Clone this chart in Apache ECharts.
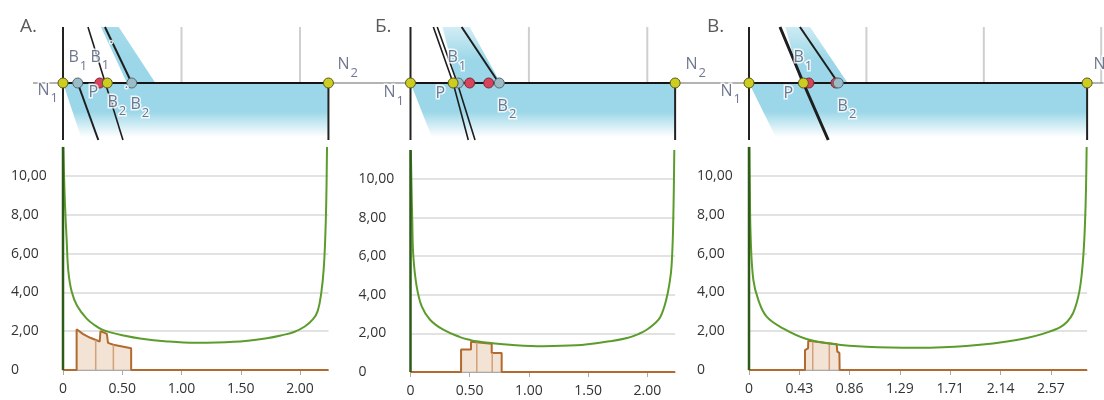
<!DOCTYPE html>
<html>
<head>
<meta charset="utf-8">
<script src="https://cdn.jsdelivr.net/npm/echarts@6/dist/echarts.min.js"></script>
<style>
html,body{margin:0;padding:0;background:#fff}
#main{width:1104px;height:400px}
</style>
</head>
<body>
<div id="main"></div>
<script>
// tick labels
var xTicksAB = [0, 0.5, 1, 1.5, 2];
var xTicksC = [0, 0.4286, 0.8571, 1.2857, 1.7143, 2.1429, 2.5714];
var yTop = 11.5;

// green curves
var curveA = [[0.003,11.5],[0.008,10.2],[0.017,8.5],[0.031,6.7],[0.045,5.1],[0.073,4.05],[0.12,3.3],[0.2,2.65],[0.27,2.3],[0.33,2.08],[0.4,1.94],[0.5,1.79],[0.65,1.62],[0.88,1.47],[1.12,1.4],[1.44,1.45],[1.72,1.64],[1.86,1.81],[1.95,1.96],[2.04,2.24],[2.11,2.62],[2.15,3.05],[2.18,4.0],[2.2,5.2],[2.213,6.8],[2.222,8.8],[2.228,11.5]];
var curveB = [[0.003,11.5],[0.008,9.8],[0.015,7.8],[0.024,6.0],[0.052,4.44],[0.095,3.4],[0.165,2.71],[0.277,2.19],[0.418,1.81],[0.51,1.65],[0.56,1.59],[0.68,1.5],[0.84,1.41],[1.12,1.34],[1.4,1.38],[1.68,1.59],[1.83,1.76],[1.93,1.98],[1.995,2.19],[2.06,2.5],[2.11,2.85],[2.16,3.75],[2.19,4.7],[2.205,5.5],[2.218,7.5],[2.228,11.5]];
var curveC = [[0.003,11.5],[0.007,9.5],[0.014,6.9],[0.037,4.64],[0.08,3.6],[0.15,2.75],[0.29,2.15],[0.49,1.6],[0.72,1.34],[1.0,1.2],[1.43,1.15],[1.85,1.24],[2.28,1.55],[2.56,1.98],[2.71,2.49],[2.79,3.44],[2.835,4.98],[2.862,7.56],[2.876,11.5]];

// brown histograms
var histA = [[0.115,0],[0.115,2.1],[0.17,1.85],[0.23,1.66],[0.31,1.47],[0.316,2.0],[0.37,1.86],[0.38,1.4],[0.425,1.3],[0.575,1.12],[0.575,0]];
var histB = [[0.427,0],[0.427,1.16],[0.511,1.16],[0.511,1.57],[0.686,1.46],[0.686,0.98],[0.77,0.98],[0.77,0]];
var histC = [[0.477,0],[0.477,1.03],[0.49,1.08],[0.503,1.12],[0.505,1.51],[0.747,1.33],[0.752,0.95],[0.77,0.88],[0.772,0]];
var divA = [[0.276,1.55],[0.425,1.3]];
var divB = [[0.56,1.54],[0.69,0.98]];
var divC = [[0.543,1.48],[0.684,1.38]];

// scheme above: x in axis units, y in px from the N1-N2 line
var bandA = [[0.32,56],[0.47,56],[0.78,0],[0.54,0]];
var bandB = [[0.27,56],[0.50,56],[0.76,0],[0.39,0]];
var bandC = [[0.31,56],[0.52,56],[0.84,0],[0.44,0]];
var raysA = [[[0.211,56],[0.506,-57]], [[0.124,0],[0.298,-57]], [[0.354,56],[0.58,0]]];
var raysB = [[[0.193,56],[0.36,0],[0.488,-57]], [[0.226,56],[0.395,0],[0.545,-57]], [[0.432,56],[0.747,0]]];
var raysC = [[[0.264,56],[0.463,0],[0.675,-57]], [[0.434,56],[0.76,0]]];
var yellowA = [0, 0.374, 2.24], greyA = [0.124, 0.58], redA = [0.31];
var yellowB = [0, 0.36, 2.235], greyB = [0.405, 0.75], redB = [0.5, 0.66];
var yellowC = [0, 0.463, 2.88], greyC = [0.76], redC = [0.51, 0.74];
var labelsA = [['B','1',0.042,21.5],['B','1',0.228,22],['˙','',0.39,31],['P','',0.211,-13],['B','2',0.371,-23.5],['˙','',0.52,-14],['B','2',0.565,-25.5],['N','1',-0.219,-11],['N','2',2.312,14.5]];
var labelsB = [['B','1',0.308,21.5],['P','',0.207,-14],['B','2',0.731,-27],['N','1',-0.232,-13.5],['N','2',2.318,14.5]];
var labelsC = [['B','1',0.375,21.5],['P','',0.29,-14.5],['B','2',0.75,-27],['N','1',-0.247,-12],['N','2',2.93,14.5]];

var F = 'Open Sans';
var LBL = '#4b5673';
var panels = [
  {title:'А.', tx:15, X0:63, k:118.5, L:2.24, xmin:-0.253, xmax:2.675, top:176, h:194, ticks:xTicksAB, guides:[1,2],
   curve:curveA, hist:histA, div:divA, band:bandA, bandFade:0.9, edge:0.16, rays:raysA, rayW:[1.6,2,2], yellow:yellowA, grey:greyA, red:redA, labels:labelsA},
  {title:'Б.', tx:370, X0:410.5, k:118.4, L:2.235, xmin:-0.258, xmax:2.614, top:179, h:193, ticks:xTicksAB, guides:[1,2],
   curve:curveB, hist:histB, div:divB, band:bandB, bandFade:0.45, edge:0.19, rays:raysB, rayW:[1.6,1.6,2], yellow:yellowB, grey:greyB, red:redB, labels:labelsB},
  {title:'В.', tx:702, X0:749, k:117.4, L:2.88, xmin:-0.247, xmax:3.02, top:176, h:194, ticks:xTicksC, guides:[1,2,3],
   curve:curveC, hist:histC, div:divC, band:bandC, bandFade:0.5, edge:0.24, rays:raysC, rayW:[3,2], yellow:yellowC, grey:greyC, red:redC, labels:labelsC}
];

function grad(stops) {
  return new echarts.graphic.LinearGradient(0, 0, 0, 1, stops.map(function (s) {
    return {offset: s[0], color: 'rgba(155,215,232,' + s[1] + ')'};
  }));
}
function polySeries(poly, ax, fill) {
  return {
    type: 'custom', xAxisIndex: ax, yAxisIndex: ax, data: [[0, 0]], silent: true, z: 1,
    renderItem: function (params, api) {
      return {type: 'polygon', shape: {points: poly.map(function (p) { return api.coord(p); })}, style: {fill: fill}};
    }
  };
}
function lineSeries(data, ax, color, width, z) {
  return {type: 'line', xAxisIndex: ax, yAxisIndex: ax, data: data, symbol: 'none', silent: true,
    lineStyle: {color: color, width: width}, z: z || 2, clip: false};
}
function dots(xs, ax, color, border, z) {
  return {type: 'scatter', xAxisIndex: ax, yAxisIndex: ax, silent: true, z: z, symbolSize: 10,
    data: xs.map(function (x) { return [x, 0]; }),
    itemStyle: {color: color, borderColor: border, borderWidth: 1, opacity: 1}};
}

var grids = [], xAxes = [], yAxes = [], series = [], titles = [];
panels.forEach(function (p, i) {
  var t = 2 * i, b = 2 * i + 1;
  titles.push({text: p.title, left: p.tx, top: 12, textStyle: {fontFamily: F, fontSize: 19, fontWeight: 'normal', color: '#5a5a5a'}});

  // scheme grid
  grids.push({left: p.X0 + p.xmin * p.k, width: (p.xmax - p.xmin) * p.k, top: 27, height: 113, containLabel: false});
  xAxes.push({gridIndex: t, type: 'value', min: p.xmin, max: p.xmax, show: false});
  yAxes.push({gridIndex: t, type: 'value', min: -57, max: 56, show: false});

  series.push(polySeries([[0,0],[p.L,0],[p.L,-57],[p.edge,-57]], t, grad([[0,1],[0.5,1],[0.95,0]])));
  series.push(polySeries(p.band, t, grad([[0,p.bandFade],[0.6,1],[1,1]])));
  p.guides.forEach(function (g) { series.push(lineSeries([[g,0],[g,56]], t, '#cfcfcf', 2, 1)); });
  series.push(lineSeries([[p.xmin,0],[p.xmax,0]], t, '#9a9a9a', 1.5, 2));
  series.push(lineSeries([[0,0],[p.L,0]], t, '#151515', 2, 3));
  series.push(lineSeries([[0,56],[0,-57]], t, '#222', 2, 3));
  series.push(lineSeries([[p.L,0],[p.L,-57]], t, '#222', 2, 3));
  p.rays.forEach(function (r, j) { series.push(lineSeries(r, t, '#1e1e1e', p.rayW[j], 4)); });
  series.push(dots(p.red, t, '#d8435c', '#7a2a35', 10));
  series.push(dots(p.grey, t, '#9bbcc7', '#506a74', 11));
  series.push(dots(p.yellow, t, '#cdcd1f', '#5a5a20', 12));
  series.push({
    type: 'scatter', xAxisIndex: t, yAxisIndex: t, silent: true, z: 20, symbolSize: 1, clip: false,
    itemStyle: {color: 'rgba(0,0,0,0)'},
    data: p.labels.map(function (l) { return {value: [l[2], l[3]], t: l[0], sub: l[1]}; }),
    label: {
      show: true, position: 'right', distance: 0,
      formatter: function (q) { return '{m|' + q.data.t + '}' + (q.data.sub ? '{s|' + q.data.sub + '}' : ''); },
      rich: {
        m: {fontFamily: F, fontSize: 16, color: LBL, lineHeight: 24, verticalAlign: 'top', textBorderColor: '#fff', textBorderWidth: 3},
        s: {fontFamily: F, fontSize: 13, color: LBL, verticalAlign: 'top', padding: [10, 0, 0, 1], textBorderColor: '#fff', textBorderWidth: 3}
      }
    }
  });

  // chart grid
  grids.push({left: p.X0, width: p.L * p.k, top: p.top, height: p.h, containLabel: false});
  xAxes.push({
    gridIndex: b, type: 'value', min: 0, max: p.L,
    axisLine: {show: true, lineStyle: {color: '#aaa', width: 1}},
    axisTick: {show: true, customValues: p.ticks, length: 5, lineStyle: {color: '#aaa'}},
    axisLabel: {customValues: p.ticks, margin: 12, fontFamily: F, fontSize: 14, color: '#333',
      formatter: function (v) { return v === 0 ? '0' : v.toFixed(2); }},
    splitLine: {show: false}
  });
  yAxes.push({
    gridIndex: b, type: 'value', min: 0, max: 10, interval: 2,
    axisLine: {show: false}, axisTick: {show: false},
    axisLabel: {align: 'left', margin: 52, fontFamily: F, fontSize: 14, color: '#333',
      formatter: function (v) { return v === 0 ? '0' : v.toFixed(2).replace('.', ','); }},
    splitLine: {lineStyle: {color: '#e2e2e2', width: 2}}
  });
  series.push({
    type: 'line', xAxisIndex: b, yAxisIndex: b, symbol: 'none', silent: true, z: 3,
    data: [[0, 0]].concat(p.hist, [[p.L, 0]]),
    lineStyle: {color: '#b36a2e', width: 2},
    areaStyle: {color: 'rgba(220,182,146,0.55)'}
  });
  p.div.forEach(function (d) { series.push(lineSeries([[d[0],0],[d[0],d[1]]], b, '#d2a07a', 1.5, 3)); });
  series.push({
    type: 'line', xAxisIndex: b, yAxisIndex: b, symbol: 'none', silent: true, z: 4, clip: false,
    smooth: 0.4, data: p.curve,
    lineStyle: {color: '#5c9c2c', width: 2}
  });
  series.push(lineSeries([[0,0],[0,yTop]], b, '#2c5c17', 2.5, 5));
});

var chart = echarts.init(document.getElementById('main'));
chart.setOption({
  animation: false,
  backgroundColor: '#fff',
  title: titles,
  grid: grids,
  xAxis: xAxes,
  yAxis: yAxes,
  series: series
});
</script>
</body>
</html>
